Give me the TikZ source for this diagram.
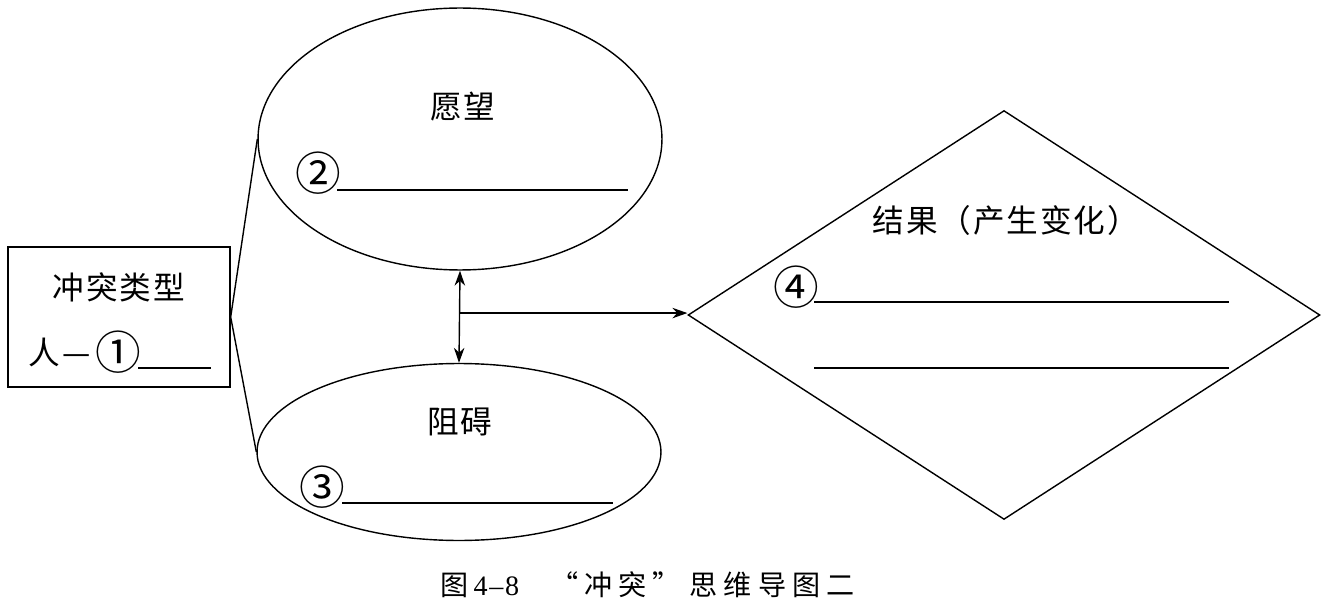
\documentclass[tikz,border=0pt]{standalone}
\usepackage{fontspec}
\setmainfont{Liberation Serif}
\newfontfamily\cjk{Noto Sans CJK SC}[LetterSpace=6]
\newfontfamily\capfont{Noto Sans CJK SC}[LetterSpace=22]
\usetikzlibrary{arrows.meta, shapes.geometric, positioning, calc}

\begin{document}
\begin{tikzpicture}[x=0.02cm, y=-0.02cm, line width=0.8pt,
    shape box/.style={draw, inner sep=0pt},
    word/.style={font=\cjk\fontsize{18pt}{20pt}\selectfont, inner sep=0pt},
    num/.style={font=\cjk\fontsize{26pt}{28pt}\selectfont, inner sep=0pt},
    blank/.style={line width=0.6pt},
    arr/.style={{Stealth[length=3mm, width=2.1mm]}-{Stealth[length=3mm, width=2.1mm]}}]
  \useasboundingbox (0,0) rectangle (1331,611);
  % Shapes
  \node[shape box, rectangle, minimum width=4.44cm, minimum height=2.8cm] (conflict) at (119,317) {};
  \node[shape box, ellipse, minimum width=8.08cm, minimum height=5.24cm] (want) at (460,139) {};
  \node[shape box, ellipse, minimum width=8.08cm, minimum height=3.54cm] (block) at (459,452) {};
  \node[shape box, diamond, minimum width=12.64cm, minimum height=8.18cm] (result) at (1004,315) {};
  % Connectors
  \draw (conflict.east) -- (want.west);
  \draw (conflict.east) -- (block.west);
  \draw[arr] (want.south) -- (block.north);
  \coordinate (mid) at ($(want.south)!0.46!(block.north)$);
  \draw[-{Stealth[length=3mm, width=2.1mm]}] (mid) -- (mid -| result.west);
  % Texts
  \node[word] (type) at (119,287) {冲突类型};
  \node[word, anchor=west] (person) at (28,352) {人—};
  \node[num, right=2pt of person] (one) {①};
  \draw[blank] (138,368) -- (211,368);
  \node[word] (wish) at (463,107) {愿望};
  \node[num] (two) at (318,173) {②};
  \draw[blank] (337,190) -- (628,190);
  \node[word] (obst) at (460,422) {阻碍};
  \node[num] (three) at (322,487) {③};
  \draw[blank] (342,503) -- (613,503);
  \node[word] (out) at (1006,220) {结果（产生变化）};
  \node[num] (four) at (796,287) {④};
  \draw[blank] (814,302) -- (1229,302);
  \draw[blank] (814,368) -- (1229,368);
  % Caption
  \node[inner sep=0pt, anchor=west, font=\fontsize{16pt}{18pt}\selectfont] (cap) at (440,585)
    {\capfont 图\,{\rmfamily 4\kern1pt\textendash\kern1pt8}\hspace{1.1em}“冲突”\hspace{0.3em}思维导图二};
\end{tikzpicture}
\end{document}
